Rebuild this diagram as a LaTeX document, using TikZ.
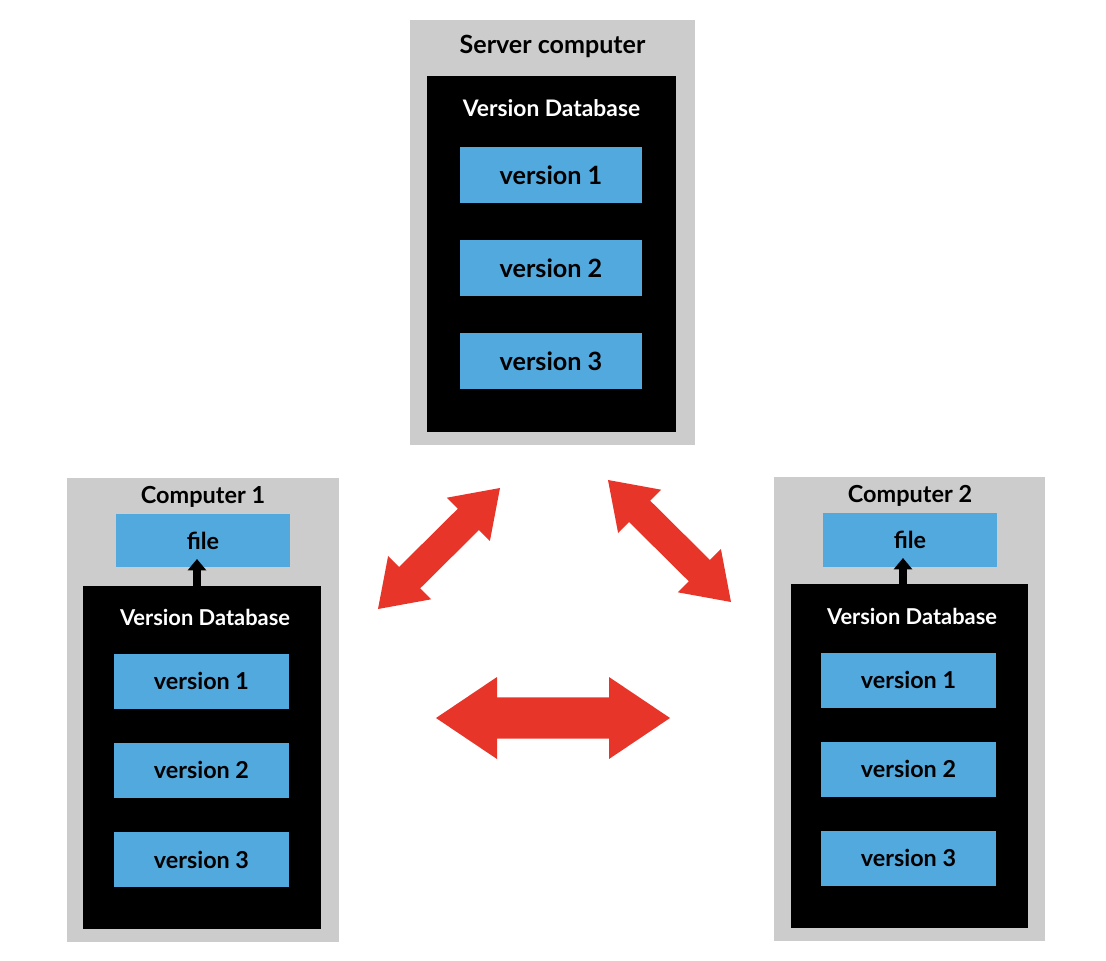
\documentclass[tikz,border=0pt]{standalone}
\usepackage{fontspec}
\setmainfont{Lato}
\usetikzlibrary{calc,arrows.meta}
\definecolor{boxgray}{HTML}{CCCCCC}
\definecolor{verblue}{HTML}{52A9DD}
\definecolor{arrowred}{HTML}{E8352A}
\newcommand\dblarrow[5]{%
  \fill[arrowred]
    ($(#1)!#3!(#2)$) coordinate (p1)
    ($(#2)!#3!(#1)$) coordinate (p2)
    (#1) -- ($(p1)!#4!90:(#2)$) -- ($(p1)!#5!90:(#2)$) -- ($(p2)!#5!-90:(#1)$)
    -- ($(p2)!#4!-90:(#1)$) -- (#2) -- ($(p2)!#4!90:(#1)$) -- ($(p2)!#5!90:(#1)$)
    -- ($(p1)!#5!-90:(#2)$) -- ($(p1)!#4!-90:(#2)$) -- cycle;}
\begin{document}
\begin{tikzpicture}[x=0.75pt,y=-0.75pt,
  outer/.style={fill=boxgray,draw=none,inner sep=0pt},
  dbbox/.style={fill=black,draw=none,inner sep=0pt},
  verbox/.style={fill=verblue,draw=none,inner sep=0pt,font=\bfseries\fontsize{17.5pt}{20pt}\selectfont},
  bigver/.style={verbox,font=\bfseries\fontsize{18.9pt}{21pt}\selectfont},
  title/.style={inner sep=0pt,font=\bfseries\fontsize{18.8pt}{21pt}\selectfont},
  smalltitle/.style={inner sep=0pt,font=\bfseries\fontsize{17.6pt}{20pt}\selectfont},
  dbtitle/.style={inner sep=0pt,text=white,font=\bfseries\fontsize{17.1pt}{20pt}\selectfont},
  smalldbtitle/.style={inner sep=0pt,text=white,font=\bfseries\fontsize{16.4pt}{20pt}\selectfont},
  getarrow/.style={line width=6pt,-{Triangle[width=13.5pt,length=8.5pt]}}]
\useasboundingbox (0,0) rectangle (1106,960);
% Server
\node[outer,minimum width=213.75pt,minimum height=318.75pt] (srv) at (552.5,232.5) {};
\node[dbbox,minimum width=186.75pt,minimum height=267pt] (srvdb) at (551.5,254) {};
\node[title] (srvt) at (552.5,46.5) {Server computer};
\node[dbtitle] (srvdbt) at (551.5,108) {Version Database};
\node[bigver,minimum width=136.5pt,minimum height=42pt] (sv1) at (551,175) {version 1};
\node[bigver,minimum width=136.5pt,minimum height=42pt] (sv2) at (551,268) {version 2};
\node[bigver,minimum width=136.5pt,minimum height=42pt] (sv3) at (551,361) {version 3};
% Computer 1
\node[outer,minimum width=204pt,minimum height=348pt] (c1) at (203,710) {};
\node[smalltitle] (c1t) at (203,496.5) {Computer 1};
\node[verbox,minimum width=130.5pt,minimum height=39.75pt] (c1f) at (203,540.5) {file};
\node[dbbox,minimum width=178.5pt,minimum height=257.25pt] (c1db) at (202,757.5) {};
\node[smalldbtitle] (c1dbt) at (205,617) {Version Database};
\node[verbox,minimum width=131.25pt,minimum height=41.25pt] (c1v1) at (201.5,681) {version 1};
\node[verbox,minimum width=131.25pt,minimum height=41.25pt] (c1v2) at (201.5,770) {version 2};
\node[verbox,minimum width=131.25pt,minimum height=41.25pt] (c1v3) at (201.5,859.5) {version 3};
\coordinate (c1a) at (197,586);
\coordinate (c1b) at (197,559);
\draw[getarrow] (c1a) -- (c1b);
% Computer 2
\node[outer,minimum width=203.25pt,minimum height=348pt] (c2) at (909.5,709) {};
\node[smalltitle] (c2t) at (910,495.5) {Computer 2};
\node[verbox,minimum width=130.5pt,minimum height=40.5pt] (c2f) at (910,540) {file};
\node[dbbox,minimum width=177.75pt,minimum height=258pt] (c2db) at (909.5,756) {};
\node[smalldbtitle] (c2dbt) at (912,616) {Version Database};
\node[verbox,minimum width=131.25pt,minimum height=41.25pt] (c2v1) at (908.5,680) {version 1};
\node[verbox,minimum width=131.25pt,minimum height=41.25pt] (c2v2) at (908.5,769) {version 2};
\node[verbox,minimum width=131.25pt,minimum height=41.25pt] (c2v3) at (908.5,858) {version 3};
\coordinate (c2a) at (903,584);
\coordinate (c2b) at (903,558);
\draw[getarrow] (c2a) -- (c2b);
% Red double arrows
\coordinate (la) at (378,609);
\coordinate (lb) at (500,488);
\coordinate (ra) at (608,480);
\coordinate (rb) at (731,602);
\coordinate (ha) at (436,718);
\coordinate (hb) at (670,718);
\dblarrow{la}{lb}{33.4pt}{22.9pt}{11.25pt}
\dblarrow{ra}{rb}{33.4pt}{22.9pt}{11.25pt}
\dblarrow{ha}{hb}{45.75pt}{30.75pt}{15.4pt}
\end{tikzpicture}
\end{document}
